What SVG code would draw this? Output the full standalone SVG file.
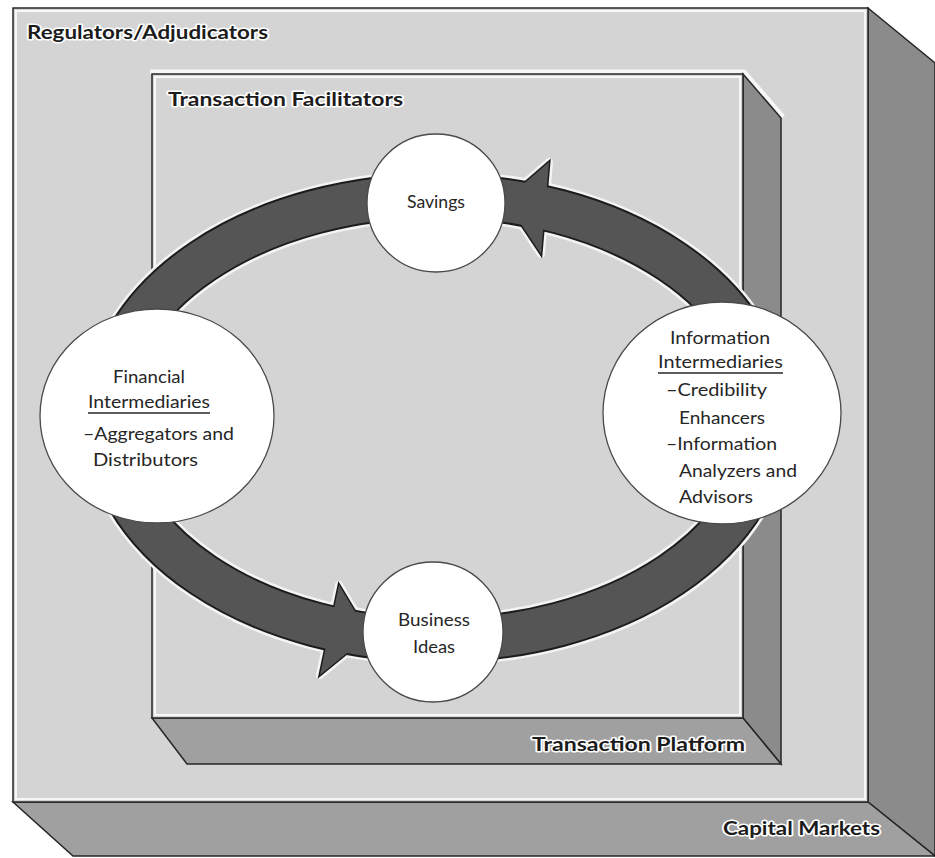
<svg xmlns="http://www.w3.org/2000/svg" width="935" height="858" viewBox="0 0 935 858">
  <style>
    .face{stroke:#262626;stroke-width:1.5;stroke-linejoin:miter}
    .front{fill:#d4d4d4}
    .side{fill:#8b8b8b}
    .bottom{fill:#a0a0a0}
    .hl{fill:none;stroke:#f7f7f7;stroke-width:2}
    .title{font-family:Lato,"Liberation Sans",sans-serif;font-weight:bold;font-size:18px;fill:#1c1c1c;stroke:#ffffff;stroke-width:3;stroke-linejoin:round;paint-order:stroke}
    .node{fill:#ffffff;stroke:#4a4a4a;stroke-width:1.3}
    .lbl{font-family:Lato,"Liberation Sans",sans-serif;font-size:17px;fill:#262626}
    .ul{stroke:#262626;stroke-width:1.3}
  </style>

  <rect width="935" height="858" fill="#ffffff"/>

  <g id="capital-markets">
    <polygon class="face side" points="868,8 935,63 935,856 868,802"/>
    <polygon class="face bottom" points="13,802 868,802 935,856 73,856"/>
    <rect class="face front" x="13" y="8" width="855" height="794"/>
    <rect class="hl" x="16" y="11" width="849" height="788"/>
    <text class="title" x="723" y="835" font-size="17" textLength="157" lengthAdjust="spacingAndGlyphs">Capital Markets</text>
    <text class="title" x="27" y="39" textLength="241" lengthAdjust="spacingAndGlyphs">Regulators/Adjudicators</text>
  </g>

  <g id="transaction-platform">
    <polyline fill="none" stroke="#f7f7f7" stroke-width="5" points="150,72 744,72 783,117"/>
    <polygon class="face side" points="743,74 781,118 781,764 743,718"/>
    <polygon class="face bottom" points="152,718 743,718 781,764 187,764"/>
    <rect class="face front" x="152" y="74" width="591" height="644"/>
    <rect class="hl" x="155" y="77" width="585" height="638"/>
    <text class="title" x="532" y="751" textLength="213" lengthAdjust="spacingAndGlyphs">Transaction Platform</text>
    <text class="title" x="168" y="106" textLength="235" lengthAdjust="spacingAndGlyphs">Transaction Facilitators</text>
  </g>

  <g id="connectors">
    <ellipse cx="437" cy="418" rx="331" ry="222" fill="none" stroke="#f4f4f4" stroke-width="51"/>
    <polygon points="505,200 549,162 541,254" fill="#f4f4f4" stroke="#f4f4f4" stroke-width="8" stroke-linejoin="round"/>
    <polygon points="369,635 339,585 320,675" fill="#f4f4f4" stroke="#f4f4f4" stroke-width="8" stroke-linejoin="round"/>
    <ellipse cx="437" cy="418" rx="331" ry="222" fill="none" stroke="#1c1c1c" stroke-width="46"/>
    <polygon points="505,200 549,162 541,254" fill="#1c1c1c" stroke="#1c1c1c" stroke-width="3"/>
    <polygon points="369,635 339,585 320,675" fill="#1c1c1c" stroke="#1c1c1c" stroke-width="3"/>
    <ellipse cx="437" cy="418" rx="331" ry="222" fill="none" stroke="#555555" stroke-width="42"/>
    <polygon points="505,200 549,162 541,254" fill="#555555"/>
    <polygon points="369,635 339,585 320,675" fill="#555555"/>
  </g>

  <g id="savings">
    <circle class="node" cx="436" cy="203" r="69"/>
    <text class="lbl" x="407" y="208" font-size="15" textLength="58" lengthAdjust="spacingAndGlyphs">Savings</text>
  </g>

  <g id="business-ideas">
    <circle class="node" cx="433" cy="632" r="70"/>
    <text class="lbl" x="398" y="626" font-size="16.5" textLength="72" lengthAdjust="spacingAndGlyphs">Business</text>
    <text class="lbl" x="413" y="653" font-size="16.5" textLength="42" lengthAdjust="spacingAndGlyphs">Ideas</text>
  </g>

  <g id="financial-intermediaries">
    <ellipse class="node" cx="157" cy="416" rx="117" ry="107"/>
    <text class="lbl" x="113" y="383" font-size="18" textLength="72" lengthAdjust="spacingAndGlyphs">Financial</text>
    <text class="lbl" x="88" y="408" font-size="18" textLength="122" lengthAdjust="spacingAndGlyphs">Intermediaries</text>
    <line class="ul" x1="88" y1="413" x2="210" y2="413"/>
    <text class="lbl" x="83" y="440" font-size="18" textLength="151" lengthAdjust="spacingAndGlyphs">–Aggregators and</text>
    <text class="lbl" x="93" y="466" font-size="18" textLength="105" lengthAdjust="spacingAndGlyphs">Distributors</text>
  </g>

  <g id="information-intermediaries">
    <ellipse class="node" cx="722" cy="413" rx="119" ry="111"/>
    <text class="lbl" x="670" y="344" textLength="100" lengthAdjust="spacingAndGlyphs">Information</text>
    <text class="lbl" x="658" y="368" textLength="125" lengthAdjust="spacingAndGlyphs">Intermediaries</text>
    <line class="ul" x1="658" y1="373" x2="783" y2="373"/>
    <text class="lbl" x="666" y="396" textLength="101" lengthAdjust="spacingAndGlyphs">–Credibility</text>
    <text class="lbl" x="679" y="424" textLength="86" lengthAdjust="spacingAndGlyphs">Enhancers</text>
    <text class="lbl" x="666" y="450" textLength="111" lengthAdjust="spacingAndGlyphs">–Information</text>
    <text class="lbl" x="679" y="477" textLength="118" lengthAdjust="spacingAndGlyphs">Analyzers and</text>
    <text class="lbl" x="679" y="503" textLength="74" lengthAdjust="spacingAndGlyphs">Advisors</text>
  </g>
</svg>
